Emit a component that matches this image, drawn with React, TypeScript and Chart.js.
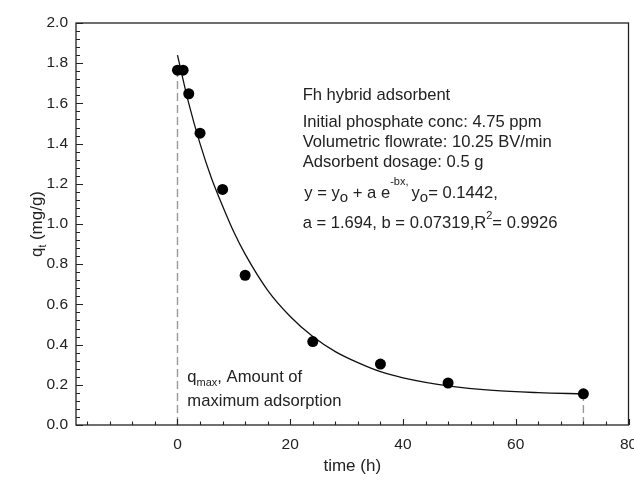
import { useEffect, useRef } from 'react';
import { Chart, registerables } from 'chart.js';

Chart.register(...registerables);

const FONT = '"Liberation Sans", Arial, Helvetica, sans-serif';
const TEXT_COLOR = '#222';

// measured data points (time h, q_t mg/g)
const TIME = [0, 1, 2, 4, 8, 12, 24, 36, 48, 72];
const QT = [1.765, 1.765, 1.648, 1.452, 1.172, 0.745, 0.415, 0.303, 0.209, 0.155];

// fitted curve
const FIT_T = [0, 2, 4, 6, 8, 10, 12, 16, 20, 24, 28, 32, 36, 40, 48, 56, 64, 72];
const FIT_Q = [1.84, 1.6, 1.4, 1.23, 1.09, 0.96, 0.85, 0.67, 0.54, 0.44, 0.365, 0.31, 0.265, 0.235, 0.195, 0.172, 0.161, 0.155];

// dashed guide lines
const QMAX_T = [0, 0];
const QMAX_Q = [0, 1.765];
const END_T = [72, 72];
const END_Q = [0, 0.155];

const X_MIN = -18;
const X_MAX = 80;
const Y_MIN = 0;
const Y_MAX = 2;
const X_TICKS = [0, 20, 40, 60, 80];
const Y_TICKS = [0, 0.2, 0.4, 0.6, 0.8, 1.0, 1.2, 1.4, 1.6, 1.8, 2.0];
const X_MINOR_STEP = 4;
const Y_MINOR_STEP = 0.04;

const X_TITLE = 'time (h)';
const INFO_LINES = [
  'Fh hybrid adsorbent',
  'Initial phosphate conc: 4.75 ppm',
  'Volumetric flowrate: 10.25 BV/min',
  'Adsorbent dosage: 0.5 g',
];

type Run = { t: string; k?: 'sub' | 'sup'; size?: number; dy?: number };

const EQ_LINE: Run[] = [
  { t: 'y = y' },
  { t: 'o', k: 'sub', size: 15, dy: 4 },
  { t: ' + a e' },
  { t: '-bx, ', k: 'sup', size: 11, dy: 13 },
  { t: 'y' },
  { t: 'o', k: 'sub', size: 15, dy: 4 },
  { t: '= 0.1442,' },
];
const PARAM_LINE: Run[] = [
  { t: 'a = 1.694, b = 0.07319,R' },
  { t: '2', k: 'sup', size: 11, dy: 9 },
  { t: '= 0.9926' },
];
const QMAX_LINE1: Run[] = [
  { t: 'q' },
  { t: 'max', k: 'sub', size: 11, dy: 4 },
  { t: ', Amount of' },
];
const QMAX_LINE2: Run[] = [{ t: 'maximum adsorption' }];
const Y_TITLE: Run[] = [
  { t: 'q' },
  { t: 't', k: 'sub', size: 10, dy: 4 },
  { t: ' (mg/g)' },
];

function runsWidth(ctx: CanvasRenderingContext2D, runs: Run[], base: number) {
  let w = 0;
  for (const r of runs) {
    ctx.font = `${r.k ? r.size : base}px ${FONT}`;
    w += ctx.measureText(r.t).width;
  }
  return w;
}

function drawRuns(ctx: CanvasRenderingContext2D, runs: Run[], x: number, y: number, base: number) {
  let cx = x;
  for (const r of runs) {
    ctx.font = `${r.k ? r.size : base}px ${FONT}`;
    const dy = r.k === 'sub' ? r.dy || 0 : r.k === 'sup' ? -(r.dy || 0) : 0;
    ctx.fillText(r.t, cx, y + dy);
    cx += ctx.measureText(r.t).width;
  }
}

const decorPlugin = {
  id: 'decor',
  afterDatasetsDraw(chart: any) {
    const { ctx, chartArea } = chart;
    const { left, right, top, bottom } = chartArea;
    const xs = chart.scales.x;
    const ys = chart.scales.y;
    ctx.save();
    ctx.strokeStyle = '#222';
    ctx.lineWidth = 1.3;
    ctx.strokeRect(left, top, right - left, bottom - top);
    ctx.lineWidth = 1.1;
    ctx.beginPath();
    for (let v = Math.ceil(X_MIN / X_MINOR_STEP) * X_MINOR_STEP; v <= X_MAX + 1e-9; v += X_MINOR_STEP) {
      const px = Math.round(xs.getPixelForValue(v)) + 0.5;
      const major = X_TICKS.some((t) => Math.abs(t - v) < 1e-6);
      ctx.moveTo(px, bottom);
      ctx.lineTo(px, bottom - (major ? 6 : 3.5));
    }
    for (let i = 0; Y_MIN + i * Y_MINOR_STEP <= Y_MAX + 1e-9; i++) {
      const v = Y_MIN + i * Y_MINOR_STEP;
      const py = Math.round(ys.getPixelForValue(v)) + 0.5;
      const major = Y_TICKS.some((t) => Math.abs(t - v) < 1e-6);
      ctx.moveTo(left, py);
      ctx.lineTo(left + (major ? 7 : 4), py);
    }
    ctx.stroke();
    ctx.restore();
  },
  afterDraw(chart: any) {
    const { ctx, chartArea } = chart;
    const xs = chart.scales.x;
    const ys = chart.scales.y;
    ctx.save();
    ctx.fillStyle = TEXT_COLOR;
    ctx.textBaseline = 'alphabetic';
    ctx.textAlign = 'left';
    const base = 16.6;

    // info block
    const infoX = xs.getPixelForValue(22.2);
    const infoY = [1.617, 1.483, 1.383, 1.284];
    INFO_LINES.forEach((line, i) => {
      drawRuns(ctx, [{ t: line }], infoX, ys.getPixelForValue(infoY[i]), base);
    });
    drawRuns(ctx, EQ_LINE, xs.getPixelForValue(22.5), ys.getPixelForValue(1.129), base);
    drawRuns(ctx, PARAM_LINE, infoX, ys.getPixelForValue(0.98), base);

    // q_max note
    const qx = xs.getPixelForValue(1.75);
    drawRuns(ctx, QMAX_LINE1, qx, ys.getPixelForValue(0.214), base);
    drawRuns(ctx, QMAX_LINE2, qx, ys.getPixelForValue(0.095), base);

    // y title (rotated)
    const cy = (chartArea.top + chartArea.bottom) / 2;
    const w = runsWidth(ctx, Y_TITLE, 17);
    ctx.translate(chartArea.left - 34, cy);
    ctx.rotate(-Math.PI / 2);
    drawRuns(ctx, Y_TITLE, -w / 2, 0, 17);
    ctx.restore();
  },
};

export default function App() {
  const ref = useRef<HTMLCanvasElement | null>(null);
  useEffect(() => {
    if (!ref.current) return;
    const pts = (xs: number[], ys: number[]) => xs.map((x, i) => ({ x, y: ys[i] }));
    const chart = new Chart(ref.current, {
      type: 'scatter',
      data: {
        datasets: [
          {
            data: pts(TIME, QT),
            showLine: false,
            pointRadius: 5.5,
            pointHoverRadius: 5.5,
            backgroundColor: '#000',
            borderColor: '#000',
            borderWidth: 0,
          },
          {
            data: pts(FIT_T, FIT_Q),
            showLine: true,
            pointRadius: 0,
            borderColor: '#111',
            borderWidth: 1.3,
            cubicInterpolationMode: 'monotone',
          } as any,
          {
            data: pts(QMAX_T, QMAX_Q),
            showLine: true,
            pointRadius: 0,
            borderColor: '#999',
            borderWidth: 1.4,
            borderDash: [8, 4],
          },
          {
            data: pts(END_T, END_Q),
            showLine: true,
            pointRadius: 0,
            borderColor: '#999',
            borderWidth: 1.4,
            borderDash: [8, 4],
          },
        ],
      },
      options: {
        animation: false,
        responsive: true,
        maintainAspectRatio: false,
        layout: { padding: { top: 23, right: 4, left: 0, bottom: 0 } },
        plugins: { legend: { display: false }, tooltip: { enabled: false } },
        scales: {
          x: {
            type: 'linear',
            position: 'bottom',
            min: X_MIN,
            max: X_MAX,
            grid: { display: false, drawTicks: false },
            border: { display: false },
            ticks: {
              font: { size: 15.5, family: FONT },
              color: TEXT_COLOR,
              padding: 10,
              maxRotation: 0,
              autoSkip: false,
            },
            title: {
              display: true,
              text: X_TITLE,
              font: { size: 17, family: FONT },
              color: TEXT_COLOR,
              padding: { top: 0, bottom: 5 },
            },
            afterBuildTicks: (s: any) => {
              s.ticks = X_TICKS.map((v) => ({ value: v }));
            },
            afterFit: (s: any) => {
              s.height = 57;
              s.paddingLeft = 0;
              s.paddingRight = 0;
            },
          },
          y: {
            type: 'linear',
            min: Y_MIN,
            max: Y_MAX,
            grid: { display: false, drawTicks: false },
            border: { display: false },
            ticks: {
              font: { size: 15.5, family: FONT },
              color: TEXT_COLOR,
              padding: 8,
              callback: (v: any) => Number(v).toFixed(1),
            },
            afterBuildTicks: (s: any) => {
              s.ticks = Y_TICKS.map((v) => ({ value: v }));
            },
            afterFit: (s: any) => {
              s.width = 76;
              s.paddingTop = 0;
              s.paddingBottom = 0;
            },
          },
        },
      },
      plugins: [decorPlugin],
    });
    return () => chart.destroy();
  }, []);

  return (
    <div style={{ position: 'fixed', left: 0, top: 0, width: 634, height: 482, background: '#fff' }}>
      <canvas ref={ref} />
    </div>
  );
}
